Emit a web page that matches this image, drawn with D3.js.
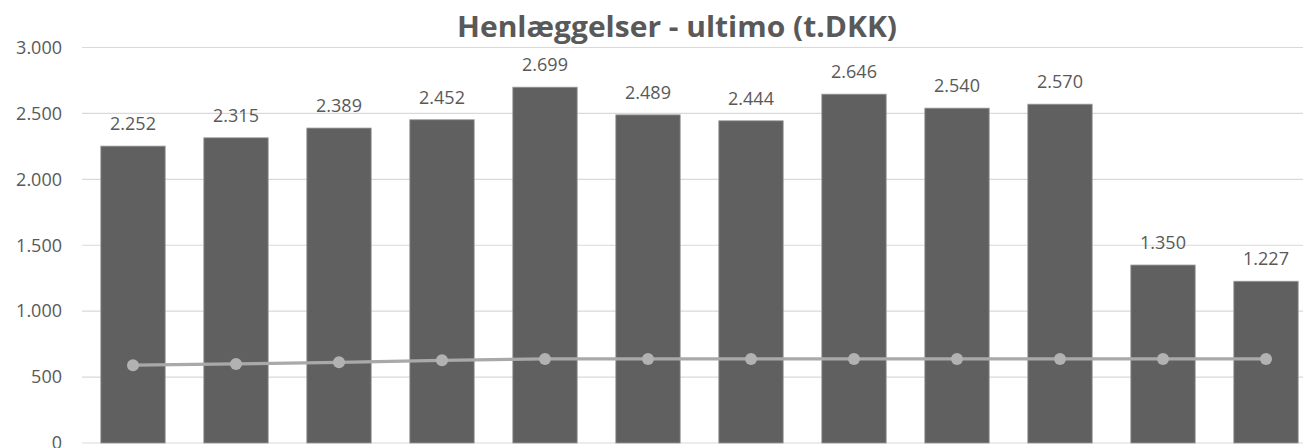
<!DOCTYPE html>
<html>
<head>
<meta charset="utf-8">
<script src="https://cdn.jsdelivr.net/npm/d3@7"></script>
<style>
  html, body { margin: 0; padding: 0; background: #fff; }
  svg { display: block; }
  text { font-family: "Open Sans", "Noto Sans", sans-serif; fill: #595959; }
</style>
</head>
<body>
<svg id="chart" width="1303" height="448"></svg>
<script>
// Periods (not labelled on the axis)
const categories = ["2020", "2021", "2022", "2023", "2024", "2025", "2026", "2027", "2028", "2029", "2030", "2031"];
// Henlæggelser ultimo, t.DKK
const balance = [2252, 2315, 2389, 2452, 2699, 2489, 2444, 2646, 2540, 2570, 1350, 1227];
// Secondary series drawn as a line with markers
const contribution = [590, 600, 612, 627, 638, 638, 638, 638, 638, 638, 638, 638];
// Y axis ticks
const yTicks = [0, 500, 1000, 1500, 2000, 2500, 3000];

const svg = d3.select("#chart");
const W = 1303, H = 448;

const fmt = v => d3.format(",")(v).replace(/,/g, ".");

const x = d3.scaleBand()
  .domain(categories)
  .range([81.5, 1317.5])
  .paddingInner(0.375)
  .paddingOuter(0.1875);

const y = d3.scaleLinear()
  .domain([0, 3000])
  .range([443, 47.5]);

// Gridlines
svg.append("g")
  .selectAll("line")
  .data(yTicks)
  .join("line")
  .attr("x1", 82)
  .attr("x2", W)
  .attr("y1", d => y(d))
  .attr("y2", d => y(d))
  .attr("stroke", "#d9d9d9")
  .attr("stroke-width", 1.2);

// Y axis labels
const yAxis = d3.axisLeft(y).tickValues(yTicks).tickSize(0).tickPadding(0).tickFormat(fmt);
const yg = svg.append("g").attr("transform", "translate(62,0)").call(yAxis);
yg.select(".domain").remove();
yg.selectAll("text")
  .attr("font-size", 18)
  .attr("fill", "#595959")
  .style("font-family", '"Open Sans", sans-serif');

// Bars
svg.append("g")
  .selectAll("rect")
  .data(balance)
  .join("rect")
  .attr("x", (d, i) => x(categories[i]))
  .attr("y", d => y(d))
  .attr("width", x.bandwidth())
  .attr("height", d => y(0) - y(d))
  .attr("fill", "#606060")
  .attr("stroke", "#9a9a9a")
  .attr("stroke-width", 0.8);

// Value labels
svg.append("g")
  .selectAll("text")
  .data(balance)
  .join("text")
  .attr("x", (d, i) => x(categories[i]) + x.bandwidth() / 2)
  .attr("y", d => y(d) - 16)
  .attr("text-anchor", "middle")
  .attr("font-size", 18)
  .text(d => fmt(d));

// Line series
const cx = i => x(categories[i]) + x.bandwidth() / 2;
const line = d3.line().x((d, i) => cx(i)).y(d => y(d));
svg.append("path")
  .datum(contribution)
  .attr("d", line)
  .attr("fill", "none")
  .attr("stroke", "#a9a9a9")
  .attr("stroke-width", 3.2);

svg.append("g")
  .selectAll("circle")
  .data(contribution)
  .join("circle")
  .attr("cx", (d, i) => cx(i))
  .attr("cy", d => y(d))
  .attr("r", 6)
  .attr("fill", "#b2b2b2");

// Title
svg.append("text")
  .attr("x", 677)
  .attr("y", 37)
  .attr("text-anchor", "middle")
  .attr("font-size", 29)
  .attr("font-weight", "bold")
  .attr("textLength", 440)
  .attr("lengthAdjust", "spacingAndGlyphs")
  .text("Henlæggelser - ultimo (t.DKK)");
</script>
</body>
</html>
